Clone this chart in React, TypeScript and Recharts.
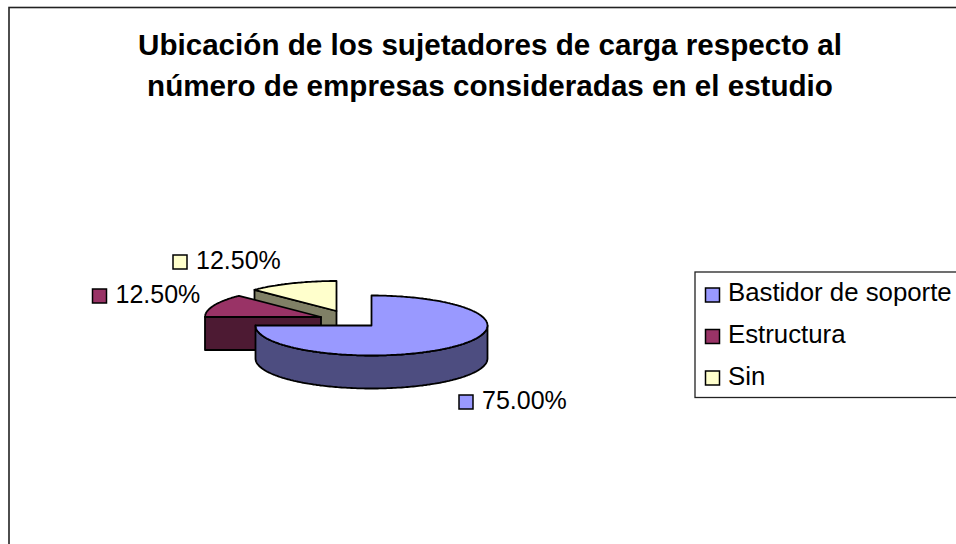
import { PieChart, Pie } from 'recharts';

const FONT = '"Liberation Sans", Arial, sans-serif';

const TITLE_LINES = [
  'Ubicación de los sujetadores de carga respecto al',
  'número de empresas consideradas en el estudio',
];

// drawn back to front: the pie runs counter-clockwise from 12 o'clock
const NAMES = ['Sin', 'Estructura', 'Bastidor de soporte'];
const VALUES = [12.5, 12.5, 75];
const LABELS = ['12.50%', '12.50%', '75.00%'];
const COLORS = ['#ffffcc', '#993366', '#9999ff'];
const SIDE_COLORS = ['#808066', '#4d1a33', '#4d4d80'];

const LEGEND_ORDER = [2, 1, 0];

// how far each slice is pulled out of the pie, in pixels
const EXPLODE = [
  { x: -35, y: -14.5 },
  { x: -50.5, y: -8.5 },
  { x: 0, y: 0 },
];
const LABEL_POS = [
  { x: 173, y: 255 },
  { x: 92.5, y: 289 },
  { x: 459, y: 395 },
];

const SQUASH = 30 / 116;
const DEPTH = 33;

const data = NAMES.map((name, i) => ({ name, value: VALUES[i], index: i }));

function Slice3D(props: any) {
  const { cx, cy, outerRadius, startAngle, endAngle, payload } = props;
  const i = payload.index;
  const ox = cx + EXPLODE[i].x;
  const oy = cy + EXPLODE[i].y;
  const pt = (deg: number, drop = 0) => {
    const a = (deg * Math.PI) / 180;
    return `${(ox + outerRadius * Math.cos(a)).toFixed(1)},${(oy - outerRadius * SQUASH * Math.sin(a) + drop).toFixed(1)}`;
  };
  const arc = (from: number, to: number, drop = 0) => {
    const pts: string[] = [];
    for (let d = from; d < to; d += 1) pts.push(pt(d, drop));
    pts.push(pt(to, drop));
    return pts;
  };
  const stroke = { stroke: '#000', strokeWidth: 1.8, strokeLinejoin: 'round' as const };
  const center = (drop = 0) => `${ox.toFixed(1)},${(oy + drop).toFixed(1)}`;

  const from = Math.max(startAngle, 180);
  const to = Math.min(endAngle, 360);
  const endWall = Math.cos((endAngle * Math.PI) / 180) < -1e-6;

  return (
    <g>
      {endWall && (
        <polygon
          points={[center(), pt(endAngle), pt(endAngle, DEPTH), center(DEPTH)].join(' ')}
          fill={SIDE_COLORS[i]}
          {...stroke}
        />
      )}
      {to > from && (
        <polygon
          points={[...arc(from, to), ...arc(from, to, DEPTH).reverse()].join(' ')}
          fill={SIDE_COLORS[i]}
          {...stroke}
        />
      )}
      <polygon points={[center(), ...arc(startAngle, endAngle)].join(' ')} fill={COLORS[i]} {...stroke} />
    </g>
  );
}

function SliceLabel(props: any) {
  const i = props.payload.index;
  const p = LABEL_POS[i];
  return (
    <g>
      <rect x={p.x} y={p.y} width={14} height={14} fill={COLORS[i]} stroke="#000" strokeWidth={1.5} />
      <text x={p.x + 23} y={p.y + 14} fontFamily={FONT} fontSize={25} fill="#000">
        {LABELS[i]}
      </text>
    </g>
  );
}

export default function App() {
  return (
    <div style={{ position: 'absolute', left: 0, top: 0, width: 956, height: 544, overflow: 'hidden', background: '#fff' }}>
      <PieChart width={956} height={544} margin={{ top: 0, right: 0, bottom: 0, left: 0 }}>
        <rect x={9} y={7.5} width={1000} height={600} fill="#fff" stroke="#222" strokeWidth={1.6} />
        {TITLE_LINES.map((line, i) => (
          <text
            key={line}
            x={490}
            y={55 + i * 40.5}
            textAnchor="middle"
            fontFamily={FONT}
            fontWeight="bold"
            fontSize={29.6}
            fill="#000"
          >
            {line}
          </text>
        ))}
        <Pie
          data={data}
          dataKey="value"
          nameKey="name"
          cx={371.5}
          cy={325.5}
          outerRadius={116}
          startAngle={90}
          endAngle={450}
          shape={Slice3D}
          label={SliceLabel}
          labelLine={false}
          isAnimationActive={false}
        />
        <rect x={695} y={272} width={400} height={125.5} fill="#fff" stroke="#222" strokeWidth={1.3} />
        {LEGEND_ORDER.map((idx, row) => (
          <g key={NAMES[idx]}>
            <rect x={705.5} y={288 + row * 41.5} width={14} height={14} fill={COLORS[idx]} stroke="#000" strokeWidth={1.5} />
            <text x={728} y={301 + row * 42} fontFamily={FONT} fontSize={25.8} fill="#000">
              {NAMES[idx]}
            </text>
          </g>
        ))}
      </PieChart>
    </div>
  );
}
